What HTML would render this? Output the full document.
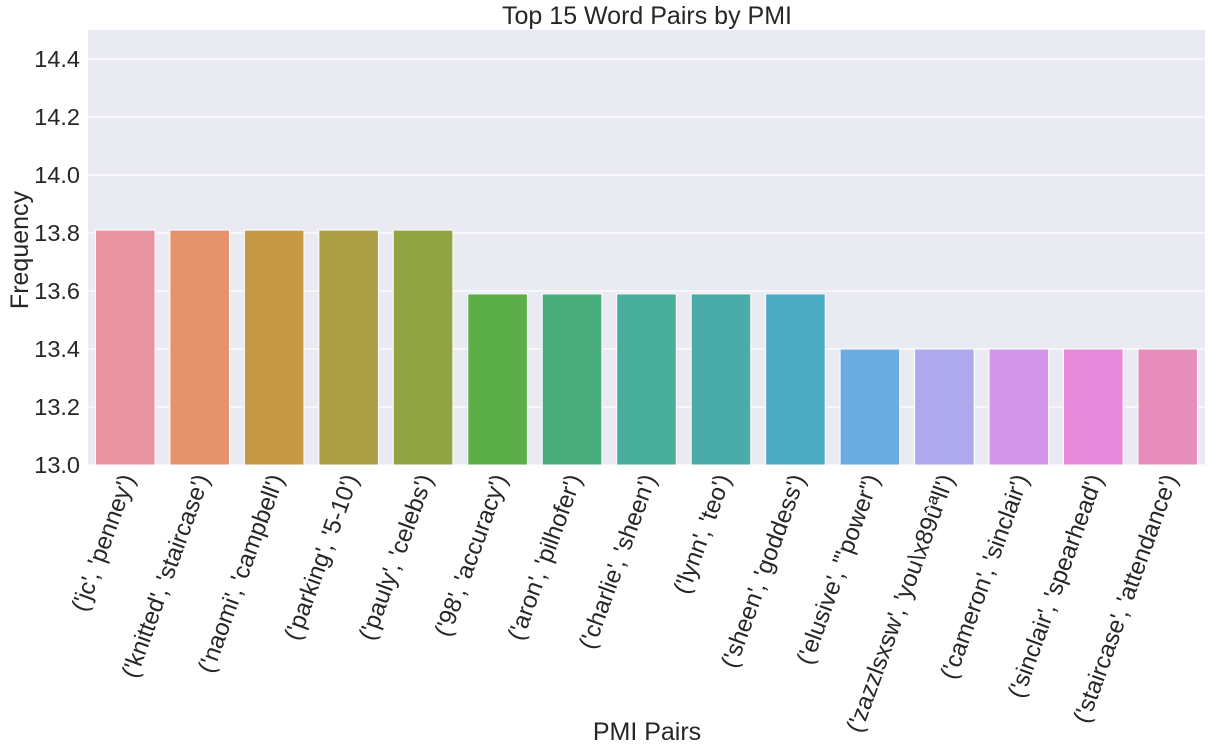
<!DOCTYPE html>
<html><head><meta charset="utf-8"><style>
body{margin:0;background:#fff;}
svg{display:block;font-family:"Liberation Sans","DejaVu Sans",sans-serif;}
</style></head><body>
<svg id="chart" width="1223" height="751">
<rect x="88" y="30" width="1117" height="435" fill="#eaeaf2"/>
<g id="grid"></g><g id="bars"></g><g id="ticks"></g><g id="xlabels"></g>
<text x="647" y="24" font-size="25" text-anchor="middle" fill="#262626">Top 15 Word Pairs by PMI</text>
<text x="647" y="740" font-size="25" text-anchor="middle" fill="#262626">PMI Pairs</text>
<text transform="translate(28,250) rotate(-90)" font-size="25" text-anchor="middle" fill="#262626">Frequency</text>
</svg>
<script>
const categories=["('jc', 'penney')","('knitted', 'staircase')","('naomi', 'campbell')","('parking', '5-10')","('pauly', 'celebs')","('98', 'accuracy')","('aron', 'pilhofer')","('charlie', 'sheen')","('lynn', 'teo')","('sheen', 'goddess')","('elusive', \"'power\")","('zazzlsxsw', 'you\\x89û\u00aall')","('cameron', 'sinclair')","('sinclair', 'spearhead')","('staircase', 'attendance')"];
const values=[13.81,13.81,13.81,13.81,13.81,13.59,13.59,13.59,13.59,13.59,13.40,13.40,13.40,13.40,13.40];
const colors=["#e8939f","#e3946d","#c79947","#ab9f45","#92a343","#5cae48","#4aad7e","#4aae9c","#4aaca8","#4caac2","#6aabe0","#aea9ec","#d196e9","#e68adb","#e68dbb"];
const yTicks=[13.0,13.2,13.4,13.6,13.8,14.0,14.2,14.4];
const NS="http://www.w3.org/2000/svg";
const x0=88,pw=1117,yMin=13.0,yMax=14.5,yTop=30,yBot=465;
const y=v=>yBot-(v-yMin)/(yMax-yMin)*(yBot-yTop);
const step=pw/categories.length;
const xc=i=>x0+step*(i+0.5);
function mk(t,a,p){const e=document.createElementNS(NS,t);for(const k in a)e.setAttribute(k,a[k]);p.appendChild(e);return e;}
const G=document.getElementById('grid'),B=document.getElementById('bars'),T=document.getElementById('ticks'),X=document.getElementById('xlabels');
yTicks.forEach(v=>{
 const l=mk('line',{x1:x0,x2:x0+pw,y1:y(v),y2:y(v),stroke:'#fff','stroke-width':1.2},G);
 
 
 const t=mk('text',{x:80,y:y(v)+8,'font-size':23.5,'text-anchor':'end',fill:'#262626'},T);
 t.textContent=v.toFixed(1);
 
 
});
categories.forEach((c,i)=>{
 const w=step*0.8;
 const r=mk('rect',{x:xc(i)-w/2,y:y(values[i]),width:w,height:yBot-y(values[i]),fill:colors[i],stroke:'#fff','stroke-width':1},B);
 
 
 const t=mk('text',{transform:`translate(${xc(i)+10},478) rotate(-70)`,'font-size':24,'text-anchor':'end',fill:'#262626'},X);
 t.textContent=c;
 
 
});
</script>
</body></html>
